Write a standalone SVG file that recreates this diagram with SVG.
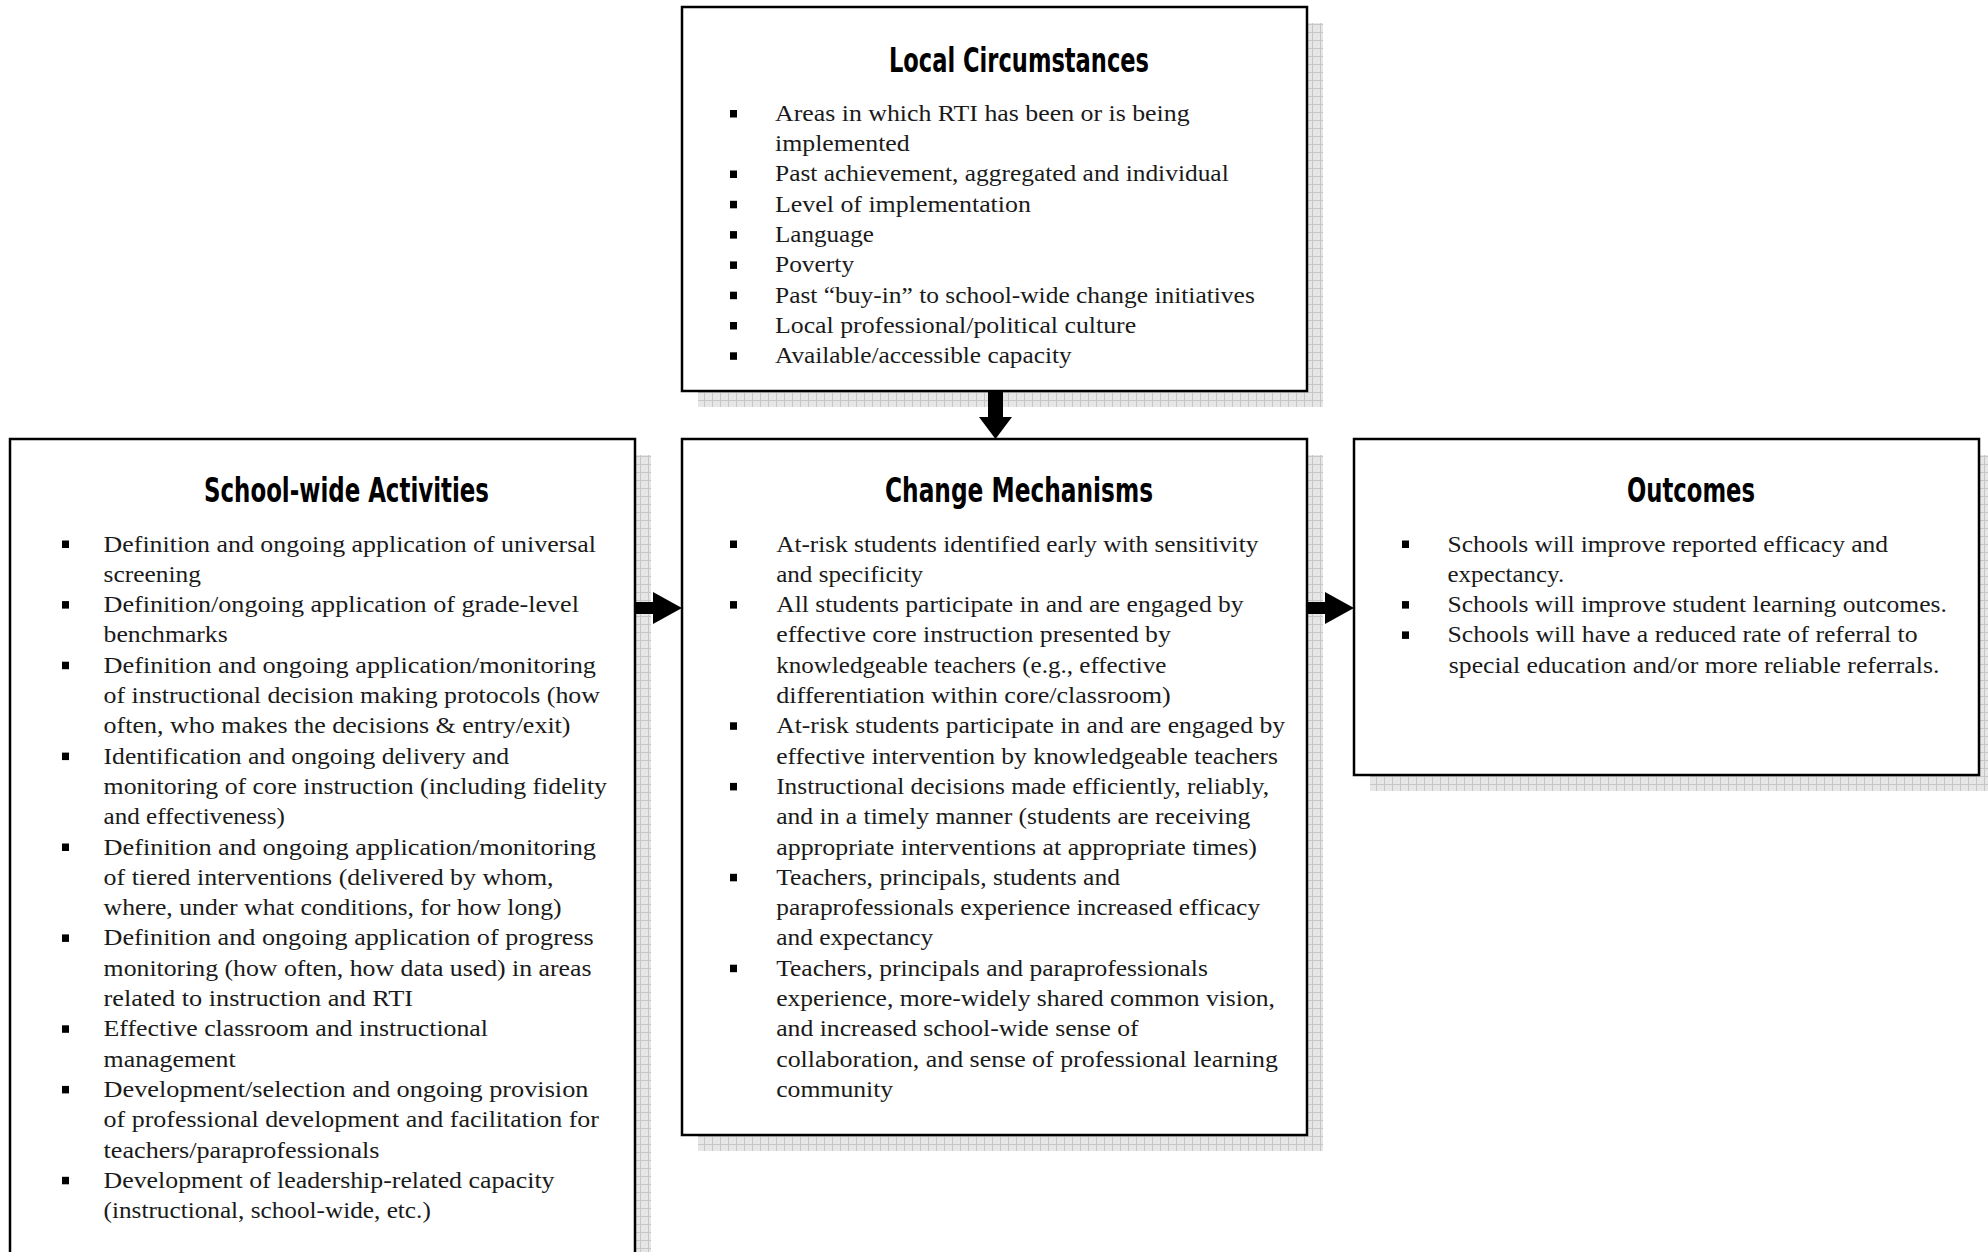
<svg xmlns="http://www.w3.org/2000/svg" width="1988" height="1252" viewBox="0 0 1988 1252">
<defs>
<pattern id="grid" width="8" height="8" patternUnits="userSpaceOnUse">
<rect width="8" height="8" fill="#e6e6e6"/>
<path d="M0 0.5H8M0.5 0V8" stroke="#c6c6c6" stroke-width="1" fill="none"/>
</pattern>
</defs>
<style>
.sh{fill:url(#grid);stroke:none}
.box{fill:#fff;stroke:#000;stroke-width:2.5}
.t{font-family:"DejaVu Sans Condensed","DejaVu Sans",sans-serif;font-weight:bold;font-stretch:condensed;font-size:34px;fill:#000}
.b{font-family:"Liberation Serif","DejaVu Serif",serif;font-size:24px;fill:#1a1a1a}
.bul{fill:#000}
.arr{fill:#000;stroke:none}
</style>
<rect width="1988" height="1252" fill="#fff"/>

<g id="local-circumstances">
<rect class="sh" x="698" y="23" width="625" height="384"/>
<rect class="box" x="682" y="7" width="625" height="384"/>
<text class="t" x="889" y="72" textLength="260" lengthAdjust="spacingAndGlyphs">Local Circumstances</text>
<g class="bul">
<rect x="730" y="110" width="7" height="7.5"/>
<rect x="730" y="170.5" width="7" height="7.5"/>
<rect x="730" y="200.8" width="7" height="7.5"/>
<rect x="730" y="231.1" width="7" height="7.5"/>
<rect x="730" y="261.4" width="7" height="7.5"/>
<rect x="730" y="291.7" width="7" height="7.5"/>
<rect x="730" y="322" width="7" height="7.5"/>
<rect x="730" y="352.3" width="7" height="7.5"/>
</g>
<text class="b" x="775" y="120.7" textLength="414.6" lengthAdjust="spacingAndGlyphs">Areas in which RTI has been or is being</text>
<text class="b" x="775" y="151" textLength="134.7" lengthAdjust="spacingAndGlyphs">implemented</text>
<text class="b" x="775" y="181.3" textLength="453.7" lengthAdjust="spacingAndGlyphs">Past achievement, aggregated and individual</text>
<text class="b" x="775" y="211.6" textLength="255.9" lengthAdjust="spacingAndGlyphs">Level of implementation</text>
<text class="b" x="775" y="241.9" textLength="98.9" lengthAdjust="spacingAndGlyphs">Language</text>
<text class="b" x="775" y="272.2" textLength="79.1" lengthAdjust="spacingAndGlyphs">Poverty</text>
<text class="b" x="775" y="302.5" textLength="479.8" lengthAdjust="spacingAndGlyphs">Past “buy-in” to school-wide change initiatives</text>
<text class="b" x="775" y="332.8" textLength="361.1" lengthAdjust="spacingAndGlyphs">Local professional/political culture</text>
<text class="b" x="775" y="363.1" textLength="296.7" lengthAdjust="spacingAndGlyphs">Available/accessible capacity</text>
</g>

<g id="school-wide-activities">
<rect class="sh" x="26" y="455" width="625" height="820"/>
<rect class="box" x="10" y="439" width="625" height="830"/>
<text class="t" x="204" y="502" textLength="285" lengthAdjust="spacingAndGlyphs">School-wide Activities</text>
<g class="bul">
<rect x="62" y="540.5" width="7" height="7.5"/>
<rect x="62" y="601.1" width="7" height="7.5"/>
<rect x="62" y="661.7" width="7" height="7.5"/>
<rect x="62" y="752.6" width="7" height="7.5"/>
<rect x="62" y="843.5" width="7" height="7.5"/>
<rect x="62" y="934.4" width="7" height="7.5"/>
<rect x="62" y="1025.3" width="7" height="7.5"/>
<rect x="62" y="1085.9" width="7" height="7.5"/>
<rect x="62" y="1176.8" width="7" height="7.5"/>
</g>
<text class="b" x="103.6" y="551.5" textLength="492.4" lengthAdjust="spacingAndGlyphs">Definition and ongoing application of universal</text>
<text class="b" x="103.6" y="581.8" textLength="97.4" lengthAdjust="spacingAndGlyphs">screening</text>
<text class="b" x="103.6" y="612.1" textLength="475.4" lengthAdjust="spacingAndGlyphs">Definition/ongoing application of grade-level</text>
<text class="b" x="103.6" y="642.4" textLength="124.1" lengthAdjust="spacingAndGlyphs">benchmarks</text>
<text class="b" x="103.6" y="672.7" textLength="492.4" lengthAdjust="spacingAndGlyphs">Definition and ongoing application/monitoring</text>
<text class="b" x="103.6" y="703" textLength="496.4" lengthAdjust="spacingAndGlyphs">of instructional decision making protocols (how</text>
<text class="b" x="103.6" y="733.3" textLength="466.9" lengthAdjust="spacingAndGlyphs">often, who makes the decisions &amp; entry/exit)</text>
<text class="b" x="103.6" y="763.6" textLength="405.4" lengthAdjust="spacingAndGlyphs">Identification and ongoing delivery and</text>
<text class="b" x="103.6" y="793.9" textLength="503.4" lengthAdjust="spacingAndGlyphs">monitoring of core instruction (including fidelity</text>
<text class="b" x="103.6" y="824.2" textLength="181.2" lengthAdjust="spacingAndGlyphs">and effectiveness)</text>
<text class="b" x="103.6" y="854.5" textLength="492.4" lengthAdjust="spacingAndGlyphs">Definition and ongoing application/monitoring</text>
<text class="b" x="103.6" y="884.8" textLength="450" lengthAdjust="spacingAndGlyphs">of tiered interventions (delivered by whom,</text>
<text class="b" x="103.6" y="915.1" textLength="458" lengthAdjust="spacingAndGlyphs">where, under what conditions, for how long)</text>
<text class="b" x="103.6" y="945.4" textLength="490.2" lengthAdjust="spacingAndGlyphs">Definition and ongoing application of progress</text>
<text class="b" x="103.6" y="975.7" textLength="487.9" lengthAdjust="spacingAndGlyphs">monitoring (how often, how data used) in areas</text>
<text class="b" x="103.6" y="1006" textLength="309.4" lengthAdjust="spacingAndGlyphs">related to instruction and RTI</text>
<text class="b" x="103.6" y="1036.3" textLength="384.4" lengthAdjust="spacingAndGlyphs">Effective classroom and instructional</text>
<text class="b" x="103.6" y="1066.6" textLength="132.1" lengthAdjust="spacingAndGlyphs">management</text>
<text class="b" x="103.6" y="1096.9" textLength="484.8" lengthAdjust="spacingAndGlyphs">Development/selection and ongoing provision</text>
<text class="b" x="103.6" y="1127.2" textLength="495.4" lengthAdjust="spacingAndGlyphs">of professional development and facilitation for</text>
<text class="b" x="103.6" y="1157.5" textLength="275.9" lengthAdjust="spacingAndGlyphs">teachers/paraprofessionals</text>
<text class="b" x="103.6" y="1187.8" textLength="450.9" lengthAdjust="spacingAndGlyphs">Development of leadership-related capacity</text>
<text class="b" x="103.6" y="1218.1" textLength="327.2" lengthAdjust="spacingAndGlyphs">(instructional, school-wide, etc.)</text>
</g>

<g id="change-mechanisms">
<rect class="sh" x="698" y="455" width="625" height="696"/>
<rect class="box" x="682" y="439" width="625" height="696"/>
<text class="t" x="885" y="502" textLength="268" lengthAdjust="spacingAndGlyphs">Change Mechanisms</text>
<g class="bul">
<rect x="730" y="540.5" width="7" height="7.5"/>
<rect x="730" y="601.1" width="7" height="7.5"/>
<rect x="730" y="722.3" width="7" height="7.5"/>
<rect x="730" y="782.9" width="7" height="7.5"/>
<rect x="730" y="873.8" width="7" height="7.5"/>
<rect x="730" y="964.7" width="7" height="7.5"/>
</g>
<text class="b" x="776.2" y="551.5" textLength="482.1" lengthAdjust="spacingAndGlyphs">At-risk students identified early with sensitivity</text>
<text class="b" x="776.2" y="581.8" textLength="146.9" lengthAdjust="spacingAndGlyphs">and specificity</text>
<text class="b" x="776.2" y="612.1" textLength="467.4" lengthAdjust="spacingAndGlyphs">All students participate in and are engaged by</text>
<text class="b" x="776.2" y="642.4" textLength="394.6" lengthAdjust="spacingAndGlyphs">effective core instruction presented by</text>
<text class="b" x="776.2" y="672.7" textLength="390.2" lengthAdjust="spacingAndGlyphs">knowledgeable teachers (e.g., effective</text>
<text class="b" x="776.2" y="703" textLength="394.6" lengthAdjust="spacingAndGlyphs">differentiation within core/classroom)</text>
<text class="b" x="776.2" y="733.3" textLength="508.9" lengthAdjust="spacingAndGlyphs">At-risk students participate in and are engaged by</text>
<text class="b" x="776.2" y="763.6" textLength="501.8" lengthAdjust="spacingAndGlyphs">effective intervention by knowledgeable teachers</text>
<text class="b" x="776.2" y="793.9" textLength="492.9" lengthAdjust="spacingAndGlyphs">Instructional decisions made efficiently, reliably,</text>
<text class="b" x="776.2" y="824.2" textLength="474.1" lengthAdjust="spacingAndGlyphs">and in a timely manner (students are receiving</text>
<text class="b" x="776.2" y="854.5" textLength="480.8" lengthAdjust="spacingAndGlyphs">appropriate interventions at appropriate times)</text>
<text class="b" x="776.2" y="884.8" textLength="343.8" lengthAdjust="spacingAndGlyphs">Teachers, principals, students and</text>
<text class="b" x="776.2" y="915.1" textLength="483.9" lengthAdjust="spacingAndGlyphs">paraprofessionals experience increased efficacy</text>
<text class="b" x="776.2" y="945.4" textLength="157.1" lengthAdjust="spacingAndGlyphs">and expectancy</text>
<text class="b" x="776.2" y="975.7" textLength="431.7" lengthAdjust="spacingAndGlyphs">Teachers, principals and paraprofessionals</text>
<text class="b" x="776.2" y="1006" textLength="498.7" lengthAdjust="spacingAndGlyphs">experience, more-widely shared common vision,</text>
<text class="b" x="776.2" y="1036.3" textLength="362.5" lengthAdjust="spacingAndGlyphs">and increased school-wide sense of</text>
<text class="b" x="776.2" y="1066.6" textLength="501.8" lengthAdjust="spacingAndGlyphs">collaboration, and sense of professional learning</text>
<text class="b" x="776.2" y="1096.9" textLength="117" lengthAdjust="spacingAndGlyphs">community</text>
</g>

<g id="outcomes">
<rect class="sh" x="1370" y="455" width="625" height="336"/>
<rect class="box" x="1354" y="439" width="625" height="336"/>
<text class="t" x="1627" y="502" textLength="128" lengthAdjust="spacingAndGlyphs">Outcomes</text>
<g class="bul">
<rect x="1402" y="540.5" width="7" height="7.5"/>
<rect x="1402" y="601.1" width="7" height="7.5"/>
<rect x="1402" y="631.4" width="7" height="7.5"/>
</g>
<text class="b" x="1447.5" y="551.5" textLength="440.6" lengthAdjust="spacingAndGlyphs">Schools will improve reported efficacy and</text>
<text class="b" x="1447.5" y="581.8" textLength="116.7" lengthAdjust="spacingAndGlyphs">expectancy.</text>
<text class="b" x="1447.5" y="612.1" textLength="499.4" lengthAdjust="spacingAndGlyphs">Schools will improve student learning outcomes.</text>
<text class="b" x="1447.5" y="642.4" textLength="470" lengthAdjust="spacingAndGlyphs">Schools will have a reduced rate of referral to</text>
<text class="b" x="1448.8" y="672.7" textLength="490.5" lengthAdjust="spacingAndGlyphs">special education and/or more reliable referrals.</text>
</g>

<g id="connectors">
<polygon class="arr" points="988,391 1003,391 1003,417 1012,417 995.5,439 979,417 988,417"/>
<polygon class="arr" points="636,602 653,602 653,592 682,608 653,624 653,614 636,614"/>
<polygon class="arr" points="1308,602 1325,602 1325,592 1354,608 1325,624 1325,614 1308,614"/>
</g>
</svg>
